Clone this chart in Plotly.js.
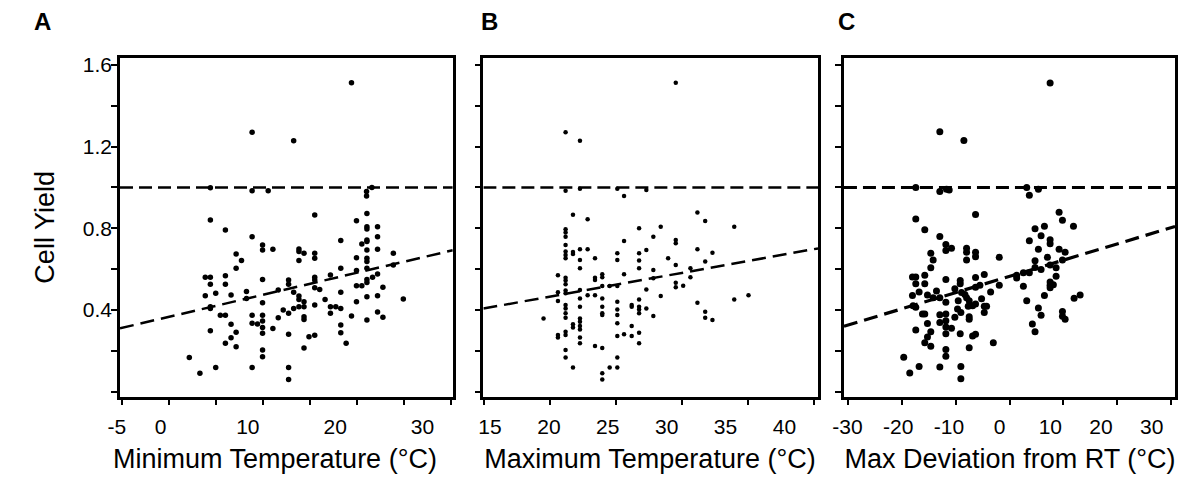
<!DOCTYPE html>
<html>
<head>
<meta charset="utf-8">
<script src="https://cdn.plot.ly/plotly-3.0.1.min.js"></script>
<style>html,body{margin:0;padding:0;background:#fff;}#chart{width:1200px;height:498px;}</style>
</head>
<body>
<div id="chart"></div>
<script>
// ---------------- data ----------------
// Panel A: Minimum Temperature (°C) vs Cell Yield
const xA = [19.44,8.87,13.29,
  4.43,8.87,10.58,21.04,21.04,21.61,
  2.19,3.32,3.89,4.43,3.89,4.43,4.43,4.43,4.43,4.43,
  5.0,5.0,5.49,6.03,6.03,6.03,6.03,6.03,
  6.63,6.63,6.63,7.17,7.17,7.17,7.17,7.74,
  8.27,8.27,8.87,8.87,8.87,8.87,9.44,
  9.98,9.98,9.98,9.98,9.98,9.98,9.98,9.98,9.98,9.98,
  11.08,11.08,11.65,11.65,12.18,
  12.75,12.75,12.75,12.75,12.75,12.75,
  13.29,13.29,
  13.85,13.85,13.85,13.85,13.85,13.85,
  14.39,14.39,14.39,14.39,14.39,14.39,14.92,
  15.53,15.53,15.53,15.53,15.53,15.53,15.53,15.53,
  16.06,16.63,17.2,17.2,17.2,17.77,
  18.3,18.3,18.3,18.3,18.3,18.3,18.87,19.44,
  19.97,19.97,19.97,19.97,19.97,20.54,20.54,
  21.08,21.08,21.08,21.08,21.08,21.08,21.08,21.08,21.08,21.08,21.08,21.08,21.08,
  21.68,22.21,22.21,22.21,22.21,22.21,22.21,
  22.78,22.78,23.89,23.89,24.95];
const yA = [1.513,1.270,1.229,
  0.999,0.984,0.984,0.958,0.980,1.0,
  0.167,0.090,0.560,0.560,0.470,0.526,0.841,0.416,0.408,0.299,
  0.482,0.119,0.374,0.374,0.792,0.568,0.526,0.237,
  0.474,0.330,0.264,0.674,0.604,0.291,0.220,0.642,
  0.491,0.457,0.759,0.374,0.335,0.118,0.331,
  0.718,0.694,0.550,0.436,0.374,0.346,0.315,0.286,0.204,0.171,
  0.697,0.309,0.498,0.362,0.400,
  0.547,0.526,0.384,0.281,0.119,0.060,
  0.487,0.408,
  0.699,0.686,0.642,0.469,0.452,0.416,
  0.678,0.441,0.416,0.367,0.354,0.214,0.269,
  0.865,0.678,0.653,0.560,0.547,0.509,0.424,0.276,
  0.501,0.452,0.571,0.416,0.384,0.416,
  0.740,0.604,0.487,0.408,0.327,0.289,0.237,0.371,
  0.837,0.656,0.593,0.519,0.441,0.723,0.519,
  0.873,0.808,0.797,0.743,0.735,0.694,0.653,0.637,0.604,0.550,0.535,0.465,0.351,
  0.560,0.808,0.759,0.697,0.576,0.470,0.390,
  0.511,0.364,0.678,0.620,0.454];

// Panel B: Maximum Temperature (°C) vs Cell Yield
const xB = [29.5,21.15,22.24,
  21.15,22.24,25.07,25.58,27.27,
  21.71,22.82,19.48,
  20.57,20.57,20.57,20.57,20.57,
  21.15,21.15,21.15,21.15,21.15,21.15,21.15,21.15,21.15,21.15,21.15,21.15,21.15,21.15,21.15,21.15,21.15,21.15,21.15,21.15,
  21.71,21.71,21.71,21.71,21.71,
  22.24,22.24,22.24,22.24,22.24,22.24,22.24,22.24,22.24,22.24,22.24,22.24,
  22.82,22.82,
  23.38,23.38,23.38,23.38,23.38,
  23.93,23.93,23.93,23.93,23.93,23.93,23.93,23.93,23.93,23.93,
  24.49,24.49,
  25.07,25.07,25.07,25.07,25.07,25.07,25.07,25.07,25.07,25.07,
  25.58,25.58,25.58,
  26.16,26.16,26.16,26.16,
  26.72,26.72,26.72,26.72,26.72,26.72,26.72,26.72,26.72,26.72,
  27.27,27.27,27.27,
  27.8,27.8,27.8,27.8,
  28.36,28.36,
  28.92,
  29.5,29.5,29.5,29.5,29.5,
  30.06,30.61,30.61,
  31.14,31.14,31.14,
  31.73,31.73,31.73,31.73,
  32.28,32.28,
  33.93,33.93,35.01];
const yB = [1.513,1.270,1.229,
  0.984,0.994,0.994,0.958,0.988,
  0.867,0.844,0.359,
  0.570,0.487,0.444,0.278,0.265,
  0.795,0.779,0.759,0.718,0.686,0.669,0.653,0.558,0.544,0.526,0.495,0.482,0.424,0.408,0.384,0.362,0.294,0.278,0.204,0.168,
  0.684,0.674,0.330,0.315,0.119,
  0.697,0.645,0.604,0.498,0.457,0.416,0.359,0.343,0.322,0.305,0.265,0.237,
  0.697,0.472,
  0.653,0.558,0.547,0.472,0.224,
  0.575,0.560,0.518,0.457,0.416,0.384,0.376,0.214,0.090,0.060,
  0.518,0.119,
  0.678,0.645,0.518,0.441,0.403,0.376,0.335,0.273,0.167,0.119,
  0.738,0.575,0.281,
  0.424,0.416,0.322,0.273,
  0.800,0.678,0.642,0.604,0.452,0.416,0.403,0.384,0.289,0.237,
  0.694,0.501,0.408,
  0.759,0.596,0.555,0.371,
  0.808,0.469,
  0.653,
  0.743,0.727,0.620,0.534,0.511,
  0.519,0.604,0.560,
  0.877,0.697,0.436,
  0.836,0.637,0.392,0.362,
  0.681,0.351,
  0.808,0.452,0.472];

// Panel C: Max Deviation from RT (°C) vs Cell Yield
const xC = [7.52,-12.98,-8.51,
  -17.45,-12.98,-11.74,-11.24,3.17,3.66,5.34,
  -6.34,-17.45,-15.78,-12.98,
  -11.86,-11.86,-10.81,-14.66,-14.22,-14.66,
  -8.01,-8.01,-8.01,-6.34,-6.34,-1.93,
  -18.07,-17.45,-15.78,-17.45,-15.78,-11.86,-9.19,-9.19,-6.34,-4.72,
  -6.34,-5.53,-10.19,-13.6,-18.07,-16.83,-15.28,-14.22,-12.98,-11.86,
  -9.56,-8.94,-8.32,-8.01,-7.52,
  -17.95,-17.45,-16.21,-15.78,-12.98,-11.86,-9.69,-9.07,-7.70,-6.89,
  -10.19,-7.52,-7.52,-6.34,-5.22,-4.72,-4.29,-4.72,-3.54,-1.93,
  -15.28,-12.98,-11.86,-11.86,-17.45,-14.66,-15.28,-11.86,-10.81,-9.19,-6.89,-6.34,
  -15.78,-14.66,-11.86,-7.52,-3.04,-11.86,
  -19.69,-18.57,-16.83,-12.98,-9.07,-9.07,
  3.66,4.72,6.46,5.84,5.34,7.52,7.52,9.19,9.81,11.86,9.19,10.31,
  4.72,7.02,7.52,9.81,8.63,4.72,5.84,3.66,2.55,1.30,1.30,2.55,
  8.63,7.52,7.52,8.12,7.52,
  3.17,6.46,11.98,13.1,5.34,5.84,9.81,9.81,10.31,4.22,4.72];
const yC = [1.512,1.273,1.230,
  1.0,0.980,0.992,0.988,1.0,0.962,0.992,
  0.868,0.846,0.793,0.760,
  0.721,0.691,0.702,0.678,0.645,0.607,
  0.702,0.683,0.645,0.683,0.661,0.658,
  0.562,0.562,0.570,0.529,0.529,0.550,0.545,0.529,0.559,0.574,
  0.512,0.521,0.504,0.493,0.471,0.488,0.474,0.460,0.460,0.438,
  0.446,0.486,0.476,0.460,0.446,
  0.421,0.413,0.380,0.380,0.377,0.380,0.405,0.388,0.418,0.421,
  0.364,0.367,0.355,0.430,0.455,0.418,0.418,0.388,0.488,0.521,
  0.334,0.339,0.347,0.317,0.302,0.294,0.268,0.284,0.311,0.284,0.273,0.281,
  0.240,0.223,0.207,0.215,0.240,0.174,
  0.169,0.091,0.124,0.121,0.124,0.063,
  0.739,0.798,0.810,0.764,0.698,0.744,0.724,0.879,0.840,0.810,0.698,0.683,
  0.641,0.658,0.620,0.645,0.607,0.608,0.598,0.582,0.582,0.570,0.557,0.517,
  0.565,0.537,0.521,0.524,0.509,
  0.446,0.471,0.458,0.474,0.410,0.375,0.393,0.370,0.355,0.331,0.293];

// Fitted regression lines (intercept + slope * x) and reference level
const fitSlope = [0.0108, 0.01162, 0.00794];
const fitIntercept = [0.3663, 0.2337, 0.565];
const refLevel = 1.0;

// Tick labels
const yTickVals = [0, 0.2, 0.4, 0.6, 0.8, 1.0, 1.2, 1.4, 1.6];
const yTickText = ['', '', '0.4', '', '0.8', '', '1.2', '', '1.6'];
const xLabelsA = [-5, 0, 10, 20, 30];
const xLabelsB = [15, 20, 25, 30, 35, 40];
const xLabelsC = [-30, -20, -10, 0, 10, 20, 30];
const panelLetters = ['A', 'B', 'C'];
const xTitles = ['Minimum Temperature (°C)', 'Maximum Temperature (°C)', 'Max Deviation from RT (°C)'];
const yTitle = 'Cell Yield';

// ---------------- layout helpers ----------------
const FONT = 'Liberation Sans, Arial, Helvetica, sans-serif';
const xRanges = [[-5.18, 30.21], [14.92, 40.28], [-30.8, 30.74]];
const xDomains = [[0.1, 0.3773], [0.4028, 0.6817], [0.7033, 0.9792]];
const yDomain = [0.2034, 0.8835];
const yRange = [-0.0245, 1.634];
const labelDomains = [[0.075, 0.38333], [0.39167, 0.69167], [0.69167, 0.99167]];
const labelRanges = [[-8.08, 34.30], [13.30, 43.87], [-33.45, 37.55]];
const labelVals = [xLabelsA, xLabelsB, xLabelsC];
const markerSizes = [5.5, 4.5, 7];
const fitWidths = [2.5, 2.5, 3.2];

const xs = [xA, xB, xC], ys = [yA, yB, yC];
const traces = [];
for (let i = 0; i < 3; i++) {
  const xa = i === 0 ? 'x' : 'x' + (i + 1);
  const ya = i === 0 ? 'y' : 'y' + (i + 1);
  traces.push({type: 'scatter', mode: 'markers', x: xs[i], y: ys[i], xaxis: xa, yaxis: ya,
    marker: {color: '#000', size: markerSizes[i]}, hoverinfo: 'x+y'});
  const r = xRanges[i];
  traces.push({type: 'scatter', mode: 'lines', x: r, y: r.map(v => fitIntercept[i] + fitSlope[i] * v),
    xaxis: xa, yaxis: ya, line: {color: '#000', width: fitWidths[i], dash: '14px,7px'}, hoverinfo: 'skip'});
  traces.push({type: 'scatter', mode: 'lines', x: r, y: r.map(() => refLevel),
    xaxis: xa, yaxis: ya, line: {color: '#000', width: fitWidths[i], dash: '13px,6px'}, hoverinfo: 'skip'});
  // empty trace to host the tick-label axis
  traces.push({type: 'scatter', mode: 'markers', x: [], y: [], xaxis: 'x' + (i + 4), yaxis: ya, hoverinfo: 'skip'});
}

const layout = {
  width: 1200, height: 498,
  margin: {l: 0, r: 0, t: 0, b: 0},
  paper_bgcolor: '#fff', plot_bgcolor: 'rgba(0,0,0,0)',
  showlegend: false,
  font: {family: FONT, color: '#000', size: 20},
  annotations: []
};

const letterX = [0.035, 0.4083, 0.705];
for (let i = 0; i < 3; i++) {
  const sfx = i === 0 ? '' : String(i + 1);
  layout['xaxis' + sfx] = {
    domain: xDomains[i], range: xRanges[i], anchor: 'y' + sfx,
    tickmode: 'linear', tick0: i === 0 ? -5 : (i === 1 ? 15 : -30), dtick: i === 2 ? 10 : 5,
    ticks: 'outside', ticklen: 6, tickwidth: 2, tickcolor: '#000',
    showticklabels: false, showline: true, mirror: true, linewidth: 2.5, linecolor: '#000',
    showgrid: false, zeroline: false
  };
  layout['yaxis' + sfx] = {
    domain: yDomain, range: yRange, anchor: 'x' + sfx,
    tickmode: 'array', tickvals: yTickVals, ticktext: yTickText,
    ticks: 'outside', ticklen: 6, tickwidth: 2, tickcolor: '#000',
    showticklabels: i === 0, tickfont: {size: 21, color: '#000'}, ticklabelstandoff: -5,
    showline: true, mirror: true, linewidth: 2.5, linecolor: '#000',
    showgrid: false, zeroline: false
  };
  layout['xaxis' + (i + 4)] = {
    domain: labelDomains[i], range: labelRanges[i], anchor: 'free', position: yDomain[0],
    tickmode: 'array', tickvals: labelVals[i], ticktext: labelVals[i].map(v => String(v)),
    ticks: '', showline: false, showgrid: false, zeroline: false,
    tickfont: {size: 21, color: '#000'}, ticklabelstandoff: 15,
    title: {text: xTitles[i], font: {size: 27, color: '#000'}, standoff: 12}
  };
  layout.annotations.push({xref: 'paper', yref: 'paper', x: letterX[i], y: 0.957,
    text: '<b>' + panelLetters[i] + '</b>', showarrow: false,
    font: {size: 24, color: '#000', family: FONT}, xanchor: 'center', yanchor: 'middle'});
}
layout.yaxis.title = {text: yTitle, font: {size: 27, color: '#000'}, standoff: 21};

Plotly.newPlot('chart', traces, layout, {displayModeBar: false, staticPlot: false});
</script>
</body>
</html>
